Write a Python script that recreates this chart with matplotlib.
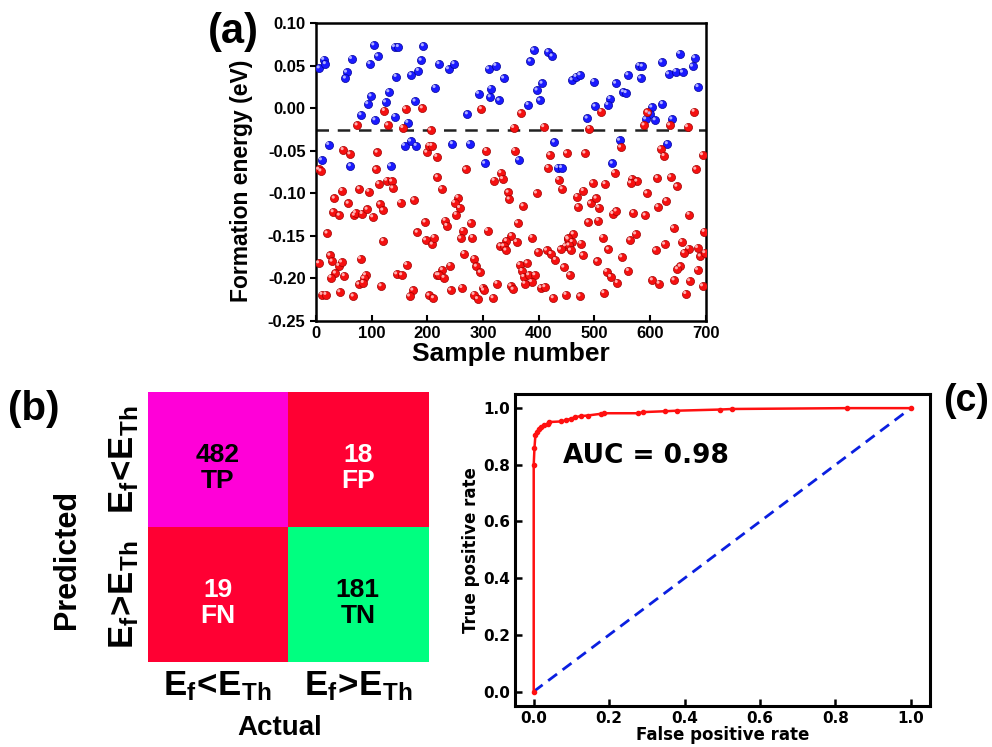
import numpy as np
import matplotlib
matplotlib.use("Agg")
import matplotlib.pyplot as plt
from matplotlib.transforms import offset_copy

plt.rcParams['font.family'] = ['Liberation Sans', 'DejaVu Sans']
plt.rcParams['font.weight'] = 'bold'
plt.rcParams['mathtext.fontset'] = 'custom'
plt.rcParams['mathtext.bf'] = 'Liberation Sans:bold'
plt.rcParams['mathtext.rm'] = 'Liberation Sans:bold'
plt.rcParams['mathtext.it'] = 'Liberation Sans:bold'
plt.rcParams['mathtext.default'] = 'bf'

# ---------------- data: panel (a) ----------------
blue_pts = [(6,0.047),(14,0.057),(17,0.052),(55,0.042),(53,0.035),(64,0.058),(97,0.052),(104,0.074),
            (111,0.061),(141,0.072),(148,0.072),(144,0.037),(171,0.039),(184,0.044),(189,0.056),(193,0.073),
            (99,0.014),(93,0.005),(131,0.019),(125,0.007),(81,-0.008),(106,-0.014),(142,-0.010),(178,0.008),
            (165,-0.017),(214,0.024),(221,0.052),(23,-0.043),(10,-0.061),(62,-0.068),(134,-0.068),(159,-0.044),
            (170,-0.039),(180,-0.044),(238,0.046),(248,0.052),(310,0.046),(323,0.050),(337,0.035),(292,0.017),
            (314,0.023),(313,0.013),(329,0.009),(272,-0.007),(391,0.068),(417,0.066),(424,0.061),(385,0.055),
            (406,0.029),(397,0.021),(402,0.009),(381,0.004),(245,-0.042),(276,-0.042),(303,-0.065),(364,-0.061),
            (428,-0.040),(434,-0.070),(441,-0.070),(460,0.033),(467,0.037),(474,0.039),(499,0.031),(538,0.029),
            (560,0.039),(580,0.050),(586,0.049),(583,0.035),(621,0.054),(633,0.040),(646,0.043),(658,0.042),
            (653,0.064),(680,0.059),(676,0.049),(686,0.025),(552,0.019),(557,0.018),(528,0.011),(524,0.004),
            (501,0.002),(487,-0.012),(603,0.001),(600,-0.007),(592,-0.013),(609,-0.014),(622,0.005),(639,-0.013),
            (545,-0.038),(631,-0.042),(532,-0.065)]
red_pts = [(74,-0.020),(123,-0.003),(129,-0.020),(161,-0.001),(191,0.000),(156,-0.023),(206,-0.026),(49,-0.049),
           (61,-0.054),(110,-0.052),(199,-0.052),(203,-0.044),(208,-0.044),(217,-0.057),(5,-0.072),(108,-0.072),
           (297,-0.001),(368,-0.006),(355,-0.023),(409,-0.022),(306,-0.050),(357,-0.050),(420,-0.055),(450,-0.053),
           (269,-0.072),(417,-0.070),(512,-0.004),(595,-0.005),(679,-0.004),(491,-0.024),(589,-0.020),(635,-0.020),
           (667,-0.022),(547,-0.046),(619,-0.048),(625,-0.056),(483,-0.053),(682,-0.072),(9,-0.074),(218,-0.081),
           (47,-0.097),(33,-0.106),(78,-0.095),(95,-0.098),(113,-0.089),(127,-0.085),(136,-0.086),(138,-0.094),
           (58,-0.112),(31,-0.122),(42,-0.126),(69,-0.126),(71,-0.123),(83,-0.124),(92,-0.119),(102,-0.128),
           (115,-0.113),(120,-0.120),(152,-0.111),(176,-0.108),(20,-0.147),(121,-0.156),(182,-0.146),(196,-0.134),
           (197,-0.155),(209,-0.160),(212,-0.152),(5,-0.182),(25,-0.173),(29,-0.180),(41,-0.185),(46,-0.181),
           (35,-0.194),(27,-0.199),(51,-0.197),(80,-0.177),(89,-0.196),(86,-0.200),(77,-0.207),(85,-0.205),
           (145,-0.195),(154,-0.196),(163,-0.184),(117,-0.209),(11,-0.219),(18,-0.219),(43,-0.216),(67,-0.221),
           (174,-0.214),(168,-0.221),(203,-0.220),(211,-0.223),(218,-0.196),(226,-0.095),(332,-0.076),(335,-0.083),
           (320,-0.085),(345,-0.099),(347,-0.107),(396,-0.100),(436,-0.084),(442,-0.095),(255,-0.105),(249,-0.111),
           (258,-0.117),(252,-0.125),(372,-0.115),(232,-0.132),(235,-0.138),(278,-0.135),(308,-0.144),(264,-0.144),
           (260,-0.153),(281,-0.152),(362,-0.135),(351,-0.150),(342,-0.156),(331,-0.162),(337,-0.162),(341,-0.167),
           (360,-0.157),(388,-0.152),(453,-0.154),(448,-0.162),(439,-0.166),(399,-0.169),(414,-0.167),(422,-0.171),
           (430,-0.178),(445,-0.187),(266,-0.171),(284,-0.177),(241,-0.185),(227,-0.190),(221,-0.196),(230,-0.199),
           (288,-0.186),(295,-0.193),(366,-0.184),(379,-0.182),(370,-0.191),(373,-0.198),(382,-0.196),(393,-0.196),
           (387,-0.204),(375,-0.206),(325,-0.206),(350,-0.209),(354,-0.213),(404,-0.211),(411,-0.210),(456,-0.196),
           (242,-0.214),(262,-0.211),(299,-0.211),(301,-0.214),(284,-0.219),(290,-0.224),(318,-0.223),(426,-0.223),
           (449,-0.219),(536,-0.076),(497,-0.088),(519,-0.089),(469,-0.104),(480,-0.097),(471,-0.116),(493,-0.112),
           (503,-0.106),(508,-0.117),(533,-0.124),(539,-0.121),(567,-0.083),(576,-0.086),(565,-0.088),(594,-0.100),
           (570,-0.123),(591,-0.126),(613,-0.082),(637,-0.081),(648,-0.092),(629,-0.109),(614,-0.116),(670,-0.125),
           (489,-0.134),(507,-0.132),(642,-0.141),(462,-0.148),(452,-0.153),(460,-0.157),(476,-0.159),(454,-0.161),
           (457,-0.167),(515,-0.152),(574,-0.148),(564,-0.155),(525,-0.166),(479,-0.173),(549,-0.175),(626,-0.160),
           (610,-0.167),(657,-0.157),(669,-0.165),(661,-0.170),(685,-0.164),(505,-0.180),(522,-0.192),(529,-0.198),
           (541,-0.205),(561,-0.191),(604,-0.202),(616,-0.206),(643,-0.202),(654,-0.186),(649,-0.189),(671,-0.203),
           (685,-0.190),(474,-0.221),(517,-0.217),(664,-0.218),(694,-0.209),(697,-0.145),(690,-0.174),(698,-0.170),
           (694,-0.055)]
blue_x = [p[0] for p in blue_pts]
blue_y = [p[1] for p in blue_pts]
red_x = [p[0] for p in red_pts]
red_y = [p[1] for p in red_pts]
threshold = -0.026
a_xticks = [0, 100, 200, 300, 400, 500, 600, 700]
a_yticks = [-0.25, -0.20, -0.15, -0.10, -0.05, 0.00, 0.05, 0.10]
a_yticklabels = ['-0.25', '-0.20', '-0.15', '-0.10', '-0.05', '0.00', '0.05', '0.10']

# ---------------- data: panel (b) ----------------
cm_values = [[482, 18], [19, 181]]
cm_names = [['TP', 'FP'], ['FN', 'TN']]
cm_colors = [['#ff00d8', '#ff0033'], ['#ff0033', '#00ff80']]
cm_text_colors = [['black', 'white'], ['white', 'black']]
col_labels = [r'$E_f\!<\!E_{Th}$', r'$E_f\!>\!E_{Th}$']
row_labels = [r'$E_f\!<\!E_{Th}$', r'$E_f\!>\!E_{Th}$']

# ---------------- data: panel (c) ----------------
fpr = [0.0, 0.0, 0.002, 0.0045, 0.008, 0.013, 0.02, 0.026, 0.037, 0.041, 0.072, 0.085, 0.099, 0.11,
       0.125, 0.143, 0.178, 0.187, 0.277, 0.29, 0.347, 0.38, 0.493, 0.526, 0.83, 1.0]
tpr = [0.0, 0.80, 0.859, 0.905, 0.916, 0.925, 0.934, 0.939, 0.945, 0.951, 0.953, 0.957, 0.963, 0.968,
       0.972, 0.974, 0.98, 0.982, 0.982, 0.986, 0.989, 0.991, 0.995, 0.997, 1.0, 1.0]
diag = [0.0, 1.0]
auc_text = 'AUC = 0.98'

fig = plt.figure(figsize=(9.92, 7.47), dpi=100)

# ---------- (a) ----------
axa = fig.add_axes([0.3185, 0.5703, 0.3931, 0.3989])
for xs, ys, c, ec, hl in [(blue_x, blue_y, '#1a1aff', '#00009a', '#b0b0ff'),
                          (red_x, red_y, '#f51010', '#a00000', '#ffb0b0')]:
    axa.scatter(xs, ys, s=34, c=c, edgecolors=ec, linewidths=0.5, zorder=3)
    tr = offset_copy(axa.transData, fig=fig, x=-0.8, y=0.9, units='points')
    axa.scatter(xs, ys, s=5, c=hl, edgecolors='none', transform=tr, zorder=4)
axa.axhline(threshold, color='#222222', ls=(0, (5, 3.5)), lw=1.8, zorder=2)
axa.set_xlim(0, 700)
axa.set_ylim(-0.25, 0.10)
axa.set_xticks(a_xticks)
axa.set_yticks(a_yticks)
axa.set_yticklabels(a_yticklabels)
axa.tick_params(axis='x', direction='in', length=4, width=1.5, labelsize=12)
axa.tick_params(axis='y', direction='out', length=4, width=1.5, labelsize=12)
for s in axa.spines.values():
    s.set_linewidth(1.8)
axa.set_xlabel('Sample number', fontsize=19, fontweight='bold', labelpad=1)
axa.set_ylabel('Formation energy (eV)', fontsize=16.5, fontweight='bold', labelpad=3)
axa.yaxis.set_label_coords(-0.162, 0.47)

# ---------- (b) ----------
axb = fig.add_axes([0.149, 0.1138, 0.2823, 0.3614])
rgb = np.array([[matplotlib.colors.to_rgb(c) for c in row] for row in cm_colors])
axb.imshow(rgb, aspect='auto', extent=(-0.5, 1.5, 1.5, -0.5))
for i in range(2):
    for j in range(2):
        axb.text(j, i + 0.06, '%d\n%s' % (cm_values[i][j], cm_names[i][j]), ha='center', va='center',
                 fontsize=19, fontweight='bold', color=cm_text_colors[i][j], linespacing=1.1)
axb.set_xticks([0, 1])
axb.set_xticklabels(col_labels, fontsize=25)
axb.set_yticks([0, 1])
axb.set_yticklabels(row_labels, fontsize=25, rotation=90, va='center')
axb.tick_params(length=0, pad=5)
for s in axb.spines.values():
    s.set_visible(False)
axb.set_xlabel('Actual', fontsize=20, fontweight='bold')
axb.xaxis.set_label_coords(0.47, -0.196)
axb.set_ylabel('Predicted', fontsize=22, fontweight='bold')
axb.yaxis.set_label_coords(-0.235, 0.38)

# ---------- (c) ----------
axc = fig.add_axes([0.519, 0.0553, 0.4183, 0.4173])
axc.plot(diag, diag, color='#0a1fe0', ls=(0, (4, 2.5)), lw=2)
axc.plot(fpr, tpr, color='#ff1010', lw=1.8, marker='o', ms=3)
axc.text(0.077, 0.807, auc_text, fontsize=19, fontweight='bold', family='DejaVu Sans')
axc.tick_params(direction='in', length=5, width=1.8, labelsize=11)
for lab in axc.get_xticklabels() + axc.get_yticklabels():
    lab.set_family('DejaVu Sans')
    lab.set_fontweight('bold')
for s in axc.spines.values():
    s.set_linewidth(2.2)
axc.set_xlabel('False positive rate', fontsize=12, fontweight='bold', family='DejaVu Sans', labelpad=0)
axc.set_ylabel('True positive rate', fontsize=12, fontweight='bold', family='DejaVu Sans', labelpad=2)

fig.text(0.235, 0.957, '(a)', fontsize=30, fontweight='bold', ha='center', va='center')
fig.text(0.034, 0.452, '(b)', fontsize=29, fontweight='bold', ha='center', va='center')
fig.text(0.974, 0.463, '(c)', fontsize=27, fontweight='bold', ha='center', va='center')

fig.savefig('out.png', dpi=100)
